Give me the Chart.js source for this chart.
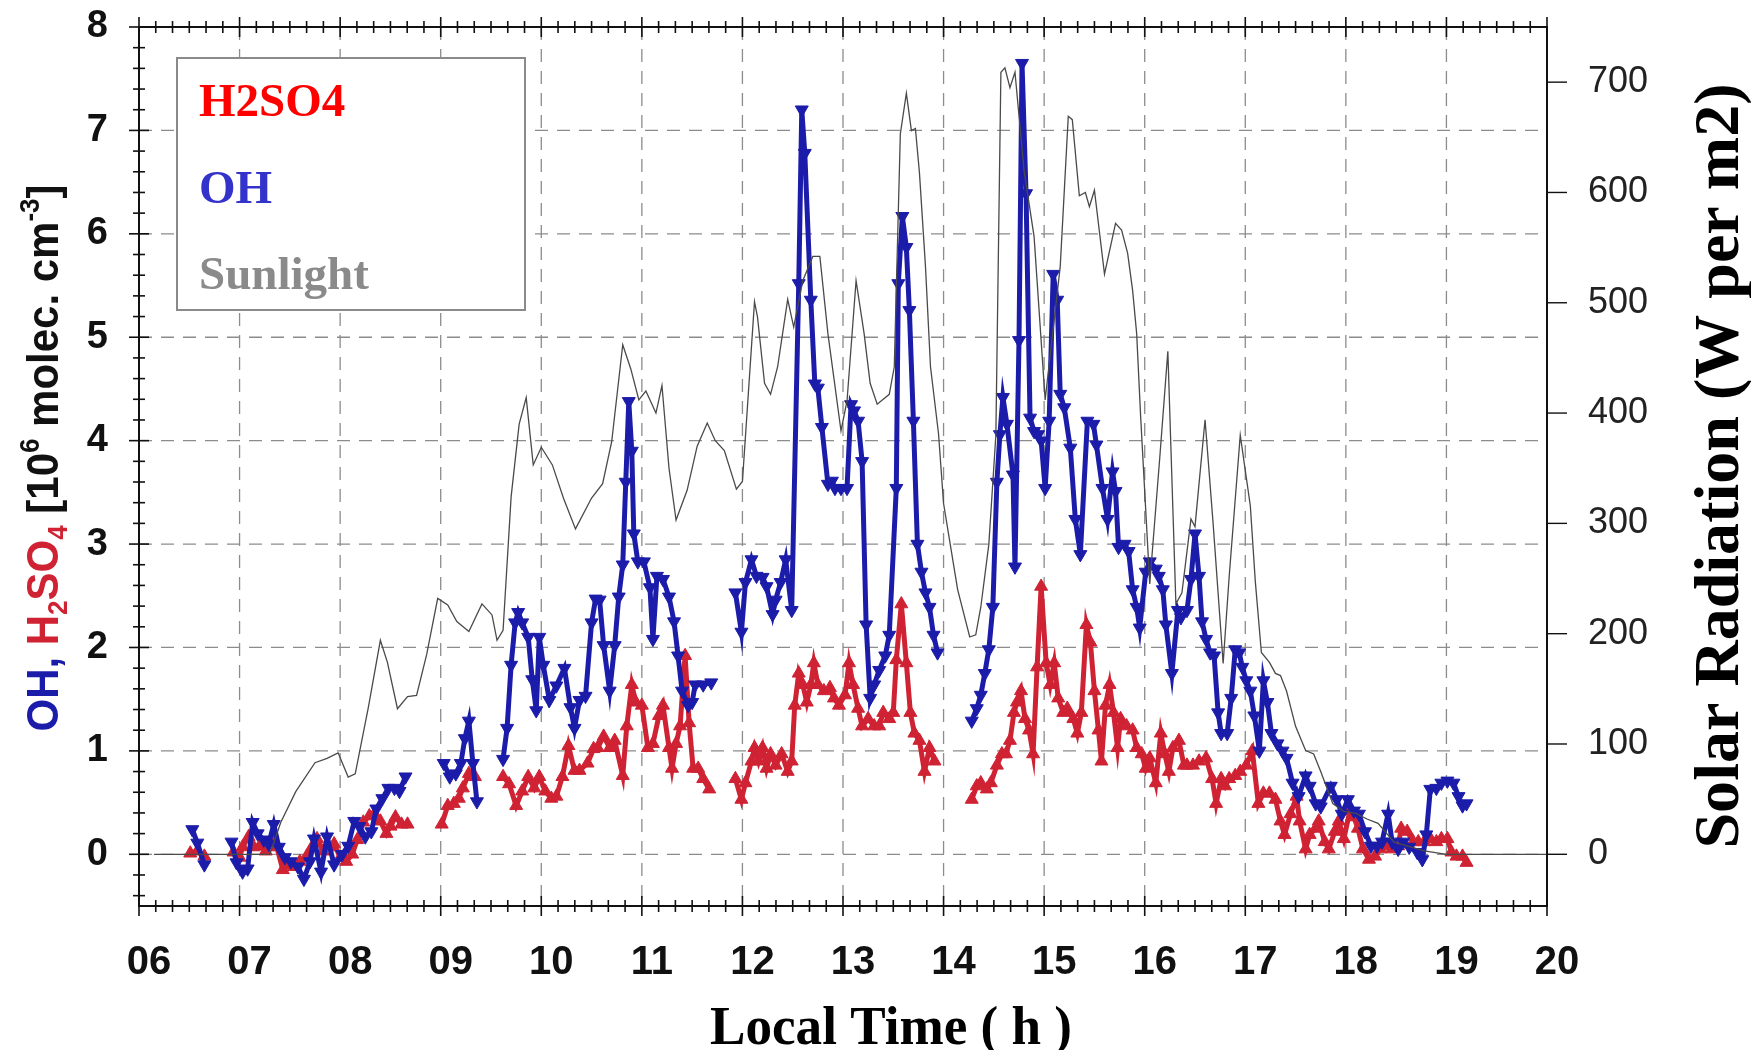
<!DOCTYPE html>
<html>
<head>
<meta charset="utf-8">
<script src="https://cdn.jsdelivr.net/npm/chart.js@4.4.1/dist/chart.umd.min.js"></script>
<style>
  html, body { margin: 0; padding: 0; background: #fff; }
  #wrap { width: 1751px; height: 1050px; }
</style>
</head>
<body>
<div id="wrap"><canvas id="chart" width="1751" height="1050"></canvas></div>
<script>
// ---- data (local time in hours) ----
const xTicks = [6, 7, 8, 9, 10, 11, 12, 13, 14, 15, 16, 17, 18, 19, 20];
const yTicks = [0, 1, 2, 3, 4, 5, 6, 7, 8];
const y2Ticks = [0, 100, 200, 300, 400, 500, 600, 700];

// solar radiation, W per m2 (right axis)
const sunTime = [
  6.15, 7.0, 7.30, 7.41, 7.56, 7.75, 7.87, 7.98, 8.08, 8.15,
  8.28, 8.40, 8.47, 8.57, 8.67, 8.76, 8.86, 8.97, 9.07, 9.16,
  9.28, 9.41, 9.51, 9.56, 9.62, 9.70, 9.78, 9.85, 9.92, 10.0,
  10.11, 10.22, 10.34, 10.5, 10.61, 10.7, 10.81, 10.89, 10.97, 11.04,
  11.14, 11.2, 11.27, 11.34, 11.45, 11.55, 11.65, 11.73, 11.82, 11.94,
  12.0, 12.12, 12.15, 12.22, 12.28, 12.35, 12.45, 12.51, 12.6, 12.7,
  12.77, 12.85, 12.98, 13.04, 13.13, 13.21, 13.27, 13.34, 13.46, 13.51,
  13.57, 13.63, 13.68, 13.72, 13.76, 13.82, 13.87, 13.95, 14.0, 14.14,
  14.26, 14.32, 14.37, 14.45, 14.52, 14.57, 14.61, 14.66, 14.71, 14.8,
  14.9, 15.01, 15.16, 15.24, 15.28, 15.35, 15.41, 15.45, 15.5, 15.6,
  15.71, 15.77, 15.83, 15.88, 15.92, 15.96, 16.05, 16.15, 16.23, 16.31,
  16.37, 16.46, 16.5, 16.6, 16.68, 16.78, 16.84, 16.95, 17.05, 17.1,
  17.16, 17.24, 17.3, 17.35, 17.41, 17.5, 17.6, 17.68, 17.75, 17.87,
  17.98, 18.1, 18.21, 18.32, 18.48, 18.78, 19.0, 20.0
];
const sunWatts = [
  0, 0, 0, 29, 57, 83, 87, 92, 70, 73,
  133, 194, 174, 132, 143, 144, 181, 232, 226, 211,
  202, 227, 217, 194, 203, 324, 390, 414, 353, 369,
  353, 323, 295, 323, 336, 374, 462, 440, 412, 420,
  400, 425, 350, 303, 330, 370, 391, 375, 366, 331,
  338, 501, 487, 427, 417, 442, 503, 478, 520, 542,
  542, 472, 384, 411, 520, 472, 427, 408, 417, 442,
  653, 690, 656, 658, 618, 533, 442, 381, 318, 240,
  197, 199, 224, 281, 380, 709, 713, 695, 709, 620,
  560, 412, 533, 669, 666, 597, 600, 587, 602, 526,
  572, 566, 545, 511, 472, 396, 245, 360, 456, 227,
  237, 304, 297, 394, 300, 173, 252, 380, 316, 247,
  183, 174, 164, 162, 148, 116, 94, 91, 75, 46,
  39, 37, 32, 28, 11, 3, 0, 0
];

// OH, 10^6 molec. cm-3 (null = gap in the record)
const ohTime = [
  6.53, 6.58, 6.65, 6.80,
  6.92, 6.97, 7.03, 7.08, 7.13, 7.18, 7.24, 7.29, 7.34, 7.39,
  7.45, 7.51, 7.58, 7.64, 7.70, 7.74, 7.81, 7.87, 7.94, 8.02,
  8.08, 8.14, 8.19, 8.25, 8.31, 8.36, 8.42, 8.48, 8.54, 8.59,
  8.65, 8.80,
  9.03, 9.09, 9.15, 9.20, 9.24, 9.28, 9.32, 9.36, 9.50,
  9.62, 9.66, 9.70, 9.74, 9.77, 9.81, 9.87, 9.91, 9.95, 9.98,
  10.02, 10.08, 10.15, 10.23, 10.29, 10.33, 10.38, 10.44, 10.50, 10.54,
  10.58, 10.62, 10.68, 10.73, 10.77, 10.81, 10.84, 10.87, 10.90, 10.92,
  10.96, 11.02, 11.08, 11.11, 11.15, 11.21, 11.27, 11.32, 11.36, 11.40,
  11.46, 11.50, 11.53, 11.61, 11.69, 11.80,
  11.93, 11.99, 12.03, 12.09, 12.14, 12.20, 12.24, 12.30, 12.33, 12.38,
  12.43, 12.49, 12.56, 12.59, 12.62, 12.68, 12.72, 12.75, 12.79, 12.85,
  12.89, 12.92, 12.98, 13.04, 13.08, 13.11, 13.15, 13.19, 13.23, 13.27,
  13.31, 13.36, 13.42, 13.46, 13.53, 13.55, 13.59, 13.63, 13.66, 13.70,
  13.74, 13.78, 13.82, 13.86, 13.90, 13.94, 14.10,
  14.28, 14.33, 14.37, 14.41, 14.45, 14.49, 14.53, 14.56, 14.59, 14.63,
  14.69, 14.71, 14.75, 14.78, 14.82, 14.86, 14.90, 14.94, 14.97, 15.01,
  15.05, 15.09, 15.13, 15.16, 15.20, 15.26, 15.31, 15.36, 15.43, 15.49,
  15.52, 15.58, 15.63, 15.68, 15.71, 15.74, 15.80, 15.84, 15.88, 15.92,
  15.95, 16.01, 16.05, 16.11, 16.14, 16.18, 16.21, 16.27, 16.33, 16.36,
  16.42, 16.46, 16.50, 16.54, 16.57, 16.61, 16.65, 16.69, 16.73, 16.76,
  16.82, 16.86, 16.90, 16.94, 16.97, 17.01, 17.05, 17.09, 17.14, 17.18,
  17.22, 17.26, 17.32, 17.37, 17.41, 17.47, 17.53, 17.60, 17.64, 17.70,
  17.75, 17.85, 17.91, 17.96, 18.02, 18.08, 18.13, 18.19, 18.25, 18.31,
  18.36, 18.42, 18.46, 18.52, 18.57, 18.63, 18.71, 18.76, 18.80, 18.84,
  18.90, 18.95, 19.01, 19.07, 19.12, 19.16, 19.20
];
const ohValue = [
  0.24, 0.11, -0.10, null,
  0.12, -0.08, -0.17, -0.14, 0.31, 0.20, 0.14, 0.10, 0.29, 0.07,
  -0.03, -0.07, -0.12, -0.24, -0.07, 0.15, -0.17, 0.17, -0.10, 0.00,
  0.08, 0.32, 0.27, 0.17, 0.22, 0.44, 0.54, 0.64, 0.64, 0.61,
  0.75, null,
  0.88, 0.75, 0.78, 0.88, 1.12, 1.29, 0.88, 0.51, null,
  0.92, 1.22, 1.83, 2.24, 2.34, 2.24, 2.10, 1.69, 1.39, 2.10,
  1.83, 1.49, 1.63, 1.80, 1.42, 1.22, 1.49, 1.53, 2.24, 2.47,
  2.46, 2.02, 1.58, 2.02, 2.49, 2.80, 3.60, 4.38, 3.90, 3.10,
  2.83, 2.83, 2.58, 2.08, 2.69, 2.66, 2.49, 2.25, 1.92, 1.58,
  1.44, 1.47, 1.64, 1.64, 1.66, null,
  2.53, 2.15, 2.63, 2.85, 2.69, 2.68, 2.59, 2.32, 2.46, 2.63,
  2.85, 2.36, 5.52, 7.20, 6.78, 5.36, 4.55, 4.51, 4.13, 3.58,
  3.61, 3.54, 3.54, 3.54, 4.35, 4.29, 4.19, 3.80, 2.22, 1.51,
  1.64, 1.78, 1.92, 2.12, 3.54, 5.52, 6.17, 5.87, 5.26, 4.19,
  3.00, 2.73, 2.53, 2.39, 2.12, 1.95, null,
  1.29, 1.41, 1.54, 1.75, 1.98, 2.39, 3.60, 4.06, 4.42, 4.16,
  3.67, 2.78, 4.97, 7.65, 6.39, 4.22, 4.09, 4.06, 4.00, 3.54,
  4.19, 5.61, 5.36, 4.45, 4.32, 3.93, 3.24, 2.90, 4.19, 4.16,
  3.96, 3.54, 3.24, 3.70, 3.51, 2.97, 3.00, 2.93, 2.56, 2.39,
  2.19, 2.73, 2.83, 2.76, 2.69, 2.56, 2.22, 1.75, 2.36, 2.29,
  2.36, 2.66, 3.10, 2.69, 2.25, 2.08, 1.95, 1.92, 1.37, 1.17,
  1.17, 1.51, 1.98, 1.95, 1.81, 1.68, 1.58, 1.34, 1.00, 1.68,
  1.47, 1.17, 1.07, 1.00, 0.93, 0.69, 0.56, 0.76, 0.66, 0.49,
  0.46, 0.66, 0.53, 0.39, 0.53, 0.42, 0.39, 0.22, 0.08, 0.08,
  0.12, 0.39, 0.12, 0.05, 0.12, 0.07, 0.02, -0.05, 0.19, 0.63,
  0.64, 0.69, 0.71, 0.69, 0.56, 0.47, 0.49
];

// H2SO4, 10^6 molec. cm-3 (null = gap in the record)
const h2so4Time = [
  6.51, 6.58, 6.65, 6.80,
  6.94, 7.00, 7.03, 7.09, 7.14, 7.20, 7.26, 7.32, 7.37, 7.43,
  7.49, 7.54, 7.60, 7.66, 7.72, 7.77, 7.83, 7.89, 7.94, 8.00,
  8.06, 8.12, 8.17, 8.23, 8.29, 8.34, 8.40, 8.46, 8.50, 8.55,
  8.61, 8.67, 8.80,
  9.01, 9.07, 9.13, 9.18, 9.22, 9.28, 9.34, 9.50,
  9.62, 9.68, 9.75, 9.81, 9.87, 9.93, 9.98, 10.04, 10.10, 10.15,
  10.21, 10.27, 10.33, 10.38, 10.46, 10.52, 10.56, 10.62, 10.68, 10.73,
  10.81, 10.85, 10.90, 10.94, 11.00, 11.06, 11.11, 11.17, 11.21, 11.27,
  11.30, 11.34, 11.38, 11.43, 11.47, 11.51, 11.56, 11.61, 11.67, 11.80,
  11.93, 11.99, 12.03, 12.09, 12.12, 12.16, 12.20, 12.24, 12.28, 12.33,
  12.39, 12.45, 12.49, 12.52, 12.56, 12.60, 12.64, 12.68, 12.71, 12.75,
  12.81, 12.87, 12.91, 12.96, 13.02, 13.06, 13.10, 13.15, 13.19, 13.25,
  13.31, 13.36, 13.40, 13.46, 13.50, 13.53, 13.58, 13.63, 13.67, 13.71,
  13.76, 13.81, 13.86, 13.91, 14.10,
  14.28, 14.33, 14.37, 14.43, 14.47, 14.53, 14.58, 14.62, 14.66, 14.70,
  14.73, 14.77, 14.81, 14.85, 14.89, 14.93, 14.97, 15.02, 15.06, 15.10,
  15.14, 15.19, 15.23, 15.29, 15.33, 15.37, 15.42, 15.46, 15.50, 15.54,
  15.57, 15.61, 15.65, 15.69, 15.73, 15.76, 15.82, 15.88, 15.92, 15.97,
  16.01, 16.05, 16.11, 16.16, 16.20, 16.24, 16.28, 16.34, 16.39, 16.42,
  16.48, 16.54, 16.61, 16.67, 16.71, 16.76, 16.80, 16.84, 16.90, 16.95,
  17.01, 17.07, 17.13, 17.18, 17.24, 17.30, 17.35, 17.39, 17.45, 17.51,
  17.54, 17.60, 17.64, 17.70, 17.73, 17.79, 17.83, 17.89, 17.93, 17.98,
  18.04, 18.08, 18.12, 18.17, 18.23, 18.29, 18.34, 18.40, 18.46, 18.52,
  18.55, 18.61, 18.67, 18.72, 18.78, 18.84, 18.90, 18.95, 19.01, 19.05,
  19.10, 19.16, 19.20
];
const h2so4Value = [
  0.01, 0.03, -0.02, null,
  0.02, -0.03, 0.07, 0.17, 0.07, 0.08, 0.03, 0.15, 0.07, -0.15,
  -0.10, -0.12, -0.07, -0.03, 0.07, 0.15, 0.03, 0.07, 0.10, -0.03,
  -0.07, 0.00, 0.14, 0.31, 0.37, 0.39, 0.32, 0.20, 0.27, 0.36,
  0.29, 0.29, null,
  0.29, 0.47, 0.49, 0.54, 0.64, 0.78, 0.75, null,
  0.75, 0.68, 0.47, 0.61, 0.75, 0.64, 0.75, 0.61, 0.54, 0.56,
  0.75, 1.05, 0.81, 0.81, 0.88, 1.02, 1.03, 1.14, 1.03, 1.10,
  0.76, 1.24, 1.64, 1.47, 1.44, 1.03, 1.07, 1.34, 1.44, 1.03,
  0.83, 1.07, 1.24, 1.92, 1.27, 0.83, 0.83, 0.73, 0.63, null,
  0.73, 0.53, 0.69, 0.90, 1.03, 0.90, 1.03, 0.83, 0.97, 0.86,
  0.97, 0.80, 0.90, 1.44, 1.75, 1.64, 1.47, 1.64, 1.85, 1.64,
  1.58, 1.61, 1.51, 1.44, 1.54, 1.85, 1.64, 1.41, 1.24, 1.31,
  1.24, 1.24, 1.37, 1.31, 1.37, 1.88, 2.42, 1.85, 1.37, 1.17,
  1.10, 0.80, 1.03, 0.90, null,
  0.53, 0.66, 0.69, 0.63, 0.69, 0.86, 0.97, 0.97, 1.10, 1.37,
  1.47, 1.58, 1.31, 1.20, 0.97, 1.81, 2.59, 1.85, 1.64, 1.85,
  1.51, 1.37, 1.41, 1.31, 1.17, 1.37, 2.22, 2.05, 1.58, 1.20,
  0.90, 1.44, 1.64, 1.37, 1.03, 1.31, 1.24, 1.20, 1.03, 0.97,
  0.83, 0.93, 0.69, 1.17, 0.97, 0.80, 1.03, 1.10, 0.86, 0.86,
  0.86, 0.90, 0.93, 0.73, 0.49, 0.73, 0.66, 0.73, 0.76, 0.80,
  0.86, 1.00, 0.49, 0.59, 0.59, 0.53, 0.32, 0.19, 0.39, 0.56,
  0.32, 0.05, 0.19, 0.25, 0.32, 0.12, 0.05, 0.22, 0.32, 0.15,
  0.42, 0.36, 0.25, 0.05, -0.05, -0.02, 0.05, 0.08, 0.05, 0.08,
  0.25, 0.22, 0.12, 0.12, 0.12, 0.15, 0.12, 0.15, 0.15, 0.02,
  -0.02, -0.02, -0.08
];

// ---- styling ----
const OH_BLUE = '#1c1caa';
const H2SO4_RED = '#cf2233';
const SUN_GRAY = '#4a4a4a';
const GRID_GRAY = '#8c8c8c';

function toPoints(xs, ys) {
  return xs.map((t, i) => ({ x: t, y: ys[i] }));
}

function line(ctx, x1, y1, x2, y2) {
  ctx.beginPath();
  ctx.moveTo(x1, y1);
  ctx.lineTo(x2, y2);
  ctx.stroke();
}

// draws a list of coloured runs (with sub/superscripts) centred on 0, fitted to a length
function drawRuns(ctx, runs, size, family, targetLen) {
  let total = 0;
  runs.forEach(r => {
    const s = (r.sub || r.sup) ? size * 0.62 : size;
    ctx.font = 'bold ' + s + 'px ' + family;
    r.w = ctx.measureText(r.t).width;
    total += r.w;
  });
  ctx.scale(targetLen / total, 1);
  let x = -total / 2;
  ctx.textAlign = 'left';
  ctx.textBaseline = 'alphabetic';
  runs.forEach(r => {
    const s = (r.sub || r.sup) ? size * 0.62 : size;
    ctx.font = 'bold ' + s + 'px ' + family;
    ctx.fillStyle = r.c;
    const dy = r.sub ? size * 0.2 : (r.sup ? -size * 0.42 : 0);
    ctx.fillText(r.t, x, dy);
    x += r.w;
  });
}

const framePlugin = {
  id: 'frame',
  beforeDatasetsDraw(chart) {
    const ctx = chart.ctx, a = chart.chartArea;
    const xs = chart.scales.x, ys = chart.scales.y;
    ctx.save();
    ctx.strokeStyle = GRID_GRAY;
    ctx.lineWidth = 1.3;
    ctx.setLineDash([13, 9]);
    xTicks.forEach(h => {
      if (h > xs.min && h < xs.max) {
        const px = xs.getPixelForValue(h);
        line(ctx, px, a.top, px, a.bottom);
      }
    });
    yTicks.forEach(v => {
      if (v < ys.max) {
        const py = ys.getPixelForValue(v);
        line(ctx, a.left, py, a.right, py);
      }
    });
    ctx.restore();

    // legend box
    ctx.save();
    ctx.fillStyle = '#fff';
    ctx.fillRect(177, 58, 348, 252);
    ctx.strokeStyle = '#8a8a8a';
    ctx.lineWidth = 2;
    ctx.strokeRect(177, 58, 348, 252);
    ctx.font = 'bold 47px "Liberation Serif"';
    ctx.textAlign = 'left';
    ctx.textBaseline = 'alphabetic';
    ctx.fillStyle = '#ff0000';
    ctx.fillText('H2SO4', 199, 116);
    ctx.fillStyle = '#3333cc';
    ctx.fillText('OH', 199, 203);
    ctx.fillStyle = '#8a8a8a';
    ctx.fillText('Sunlight', 199, 289);
    ctx.restore();
  },
  afterDatasetsDraw(chart) {
    const ctx = chart.ctx, a = chart.chartArea;
    const xs = chart.scales.x, ys = chart.scales.y, y2 = chart.scales.y2;
    ctx.save();
    ctx.strokeStyle = '#111';
    ctx.lineWidth = 2;
    ctx.strokeRect(a.left, a.top, a.right - a.left, a.bottom - a.top);

    // time ticks, top and bottom, every 10 minutes
    ctx.lineWidth = 1.6;
    for (let k = 0; k <= (xs.max - xs.min) * 6; k++) {
      const px = xs.getPixelForValue(xs.min + k / 6);
      const len = (k % 6 === 0) ? 10 : 6;
      line(ctx, px, a.bottom - len, px, a.bottom + len);
      line(ctx, px, a.top - len, px, a.top + len);
    }
    // left ticks every 0.2
    for (let k = -2; k <= 40; k++) {
      const py = ys.getPixelForValue(k / 5);
      const len = (k % 5 === 0) ? 10 : 6;
      line(ctx, a.left - len, py, a.left + len, py);
    }
    // right ticks, outward
    ctx.lineWidth = 1.4;
    y2Ticks.forEach(v => {
      const py = y2.getPixelForValue(v);
      line(ctx, a.right, py, a.right + 20, py);
    });
    ctx.restore();
  },
  afterDraw(chart) {
    const ctx = chart.ctx;
    // left axis title
    ctx.save();
    ctx.translate(58, 458);
    ctx.rotate(-Math.PI / 2);
    drawRuns(ctx, [
      { t: 'OH, ', c: OH_BLUE },
      { t: 'H', c: H2SO4_RED },
      { t: '2', c: H2SO4_RED, sub: true },
      { t: 'SO', c: H2SO4_RED },
      { t: '4', c: H2SO4_RED, sub: true },
      { t: ' [10', c: '#111' },
      { t: '6', c: '#111', sup: true },
      { t: ' molec. cm', c: '#111' },
      { t: '-3', c: '#111', sup: true },
      { t: ']', c: '#111' }
    ], 45, '"Liberation Sans"', 547);
    ctx.restore();

    // right axis title
    ctx.save();
    ctx.translate(1738, 466);
    ctx.rotate(-Math.PI / 2);
    drawRuns(ctx, [{ t: 'Solar Radiation (W per m2)', c: '#000' }], 64, '"Liberation Serif"', 765);
    ctx.restore();

    // bottom axis title
    ctx.save();
    ctx.translate(891, 1044);
    drawRuns(ctx, [{ t: 'Local Time ( h )', c: '#000' }], 54, '"Liberation Serif"', 362);
    ctx.restore();
  }
};

const ctx = document.getElementById('chart').getContext('2d');
const chart = new Chart(ctx, {
  type: 'line',
  data: {
    datasets: [
      {
        label: 'Sunlight',
        yAxisID: 'y2',
        data: toPoints(sunTime, sunWatts),
        borderColor: SUN_GRAY,
        borderWidth: 1.3,
        pointRadius: 0,
        tension: 0
      },
      {
        label: 'OH',
        yAxisID: 'y',
        data: toPoints(ohTime, ohValue),
        borderColor: OH_BLUE,
        backgroundColor: OH_BLUE,
        borderWidth: 5,
        pointStyle: 'triangle',
        pointRotation: 180,
        pointRadius: 7.5,
        pointBorderWidth: 1,
        spanGaps: false,
        tension: 0
      },
      {
        label: 'H2SO4',
        yAxisID: 'y',
        data: toPoints(h2so4Time, h2so4Value),
        borderColor: H2SO4_RED,
        backgroundColor: H2SO4_RED,
        borderWidth: 5,
        pointStyle: 'triangle',
        pointRadius: 7.5,
        pointBorderWidth: 1,
        spanGaps: false,
        tension: 0
      }
    ]
  },
  options: {
    responsive: false,
    devicePixelRatio: 1,
    animation: false,
    layout: { padding: { top: 27, left: 0, right: 0, bottom: 0 } },
    plugins: {
      legend: { display: false },
      tooltip: { enabled: false }
    },
    scales: {
      x: {
        type: 'linear',
        position: 'bottom',
        min: 6,
        max: 20,
        afterBuildTicks: s => { s.ticks = xTicks.map(v => ({ value: v })); },
        afterFit: s => { s.height = 144; },
        grid: { display: false, drawTicks: false },
        border: { display: false },
        ticks: {
          autoSkip: false,
          maxRotation: 0,
          padding: 33,
          labelOffset: 10,
          color: '#111',
          font: { family: '"Liberation Sans"', size: 40, weight: 'bold' },
          callback: v => (v < 10 ? '0' : '') + v
        }
      },
      y: {
        type: 'linear',
        position: 'left',
        min: -0.5,
        max: 8,
        afterBuildTicks: s => { s.ticks = yTicks.map(v => ({ value: v })); },
        afterFit: s => { s.width = 139; },
        // tick marks are drawn by the plugin; tickLength only spaces the labels
        grid: { display: false, drawTicks: true, tickLength: 27 },
        border: { display: false },
        ticks: {
          padding: 4,
          color: '#111',
          font: { family: '"Liberation Sans"', size: 38, weight: 'bold' }
        }
      },
      y2: {
        type: 'linear',
        position: 'right',
        min: -46.875,
        max: 750,
        afterBuildTicks: s => { s.ticks = y2Ticks.map(v => ({ value: v })); },
        afterFit: s => { s.width = 204; },
        grid: { display: false, drawTicks: true, tickLength: 37 },
        border: { display: false },
        ticks: {
          padding: 4,
          color: '#222',
          font: { family: '"Liberation Sans"', size: 36 }
        }
      }
    }
  },
  plugins: [framePlugin]
});
</script>
</body>
</html>
